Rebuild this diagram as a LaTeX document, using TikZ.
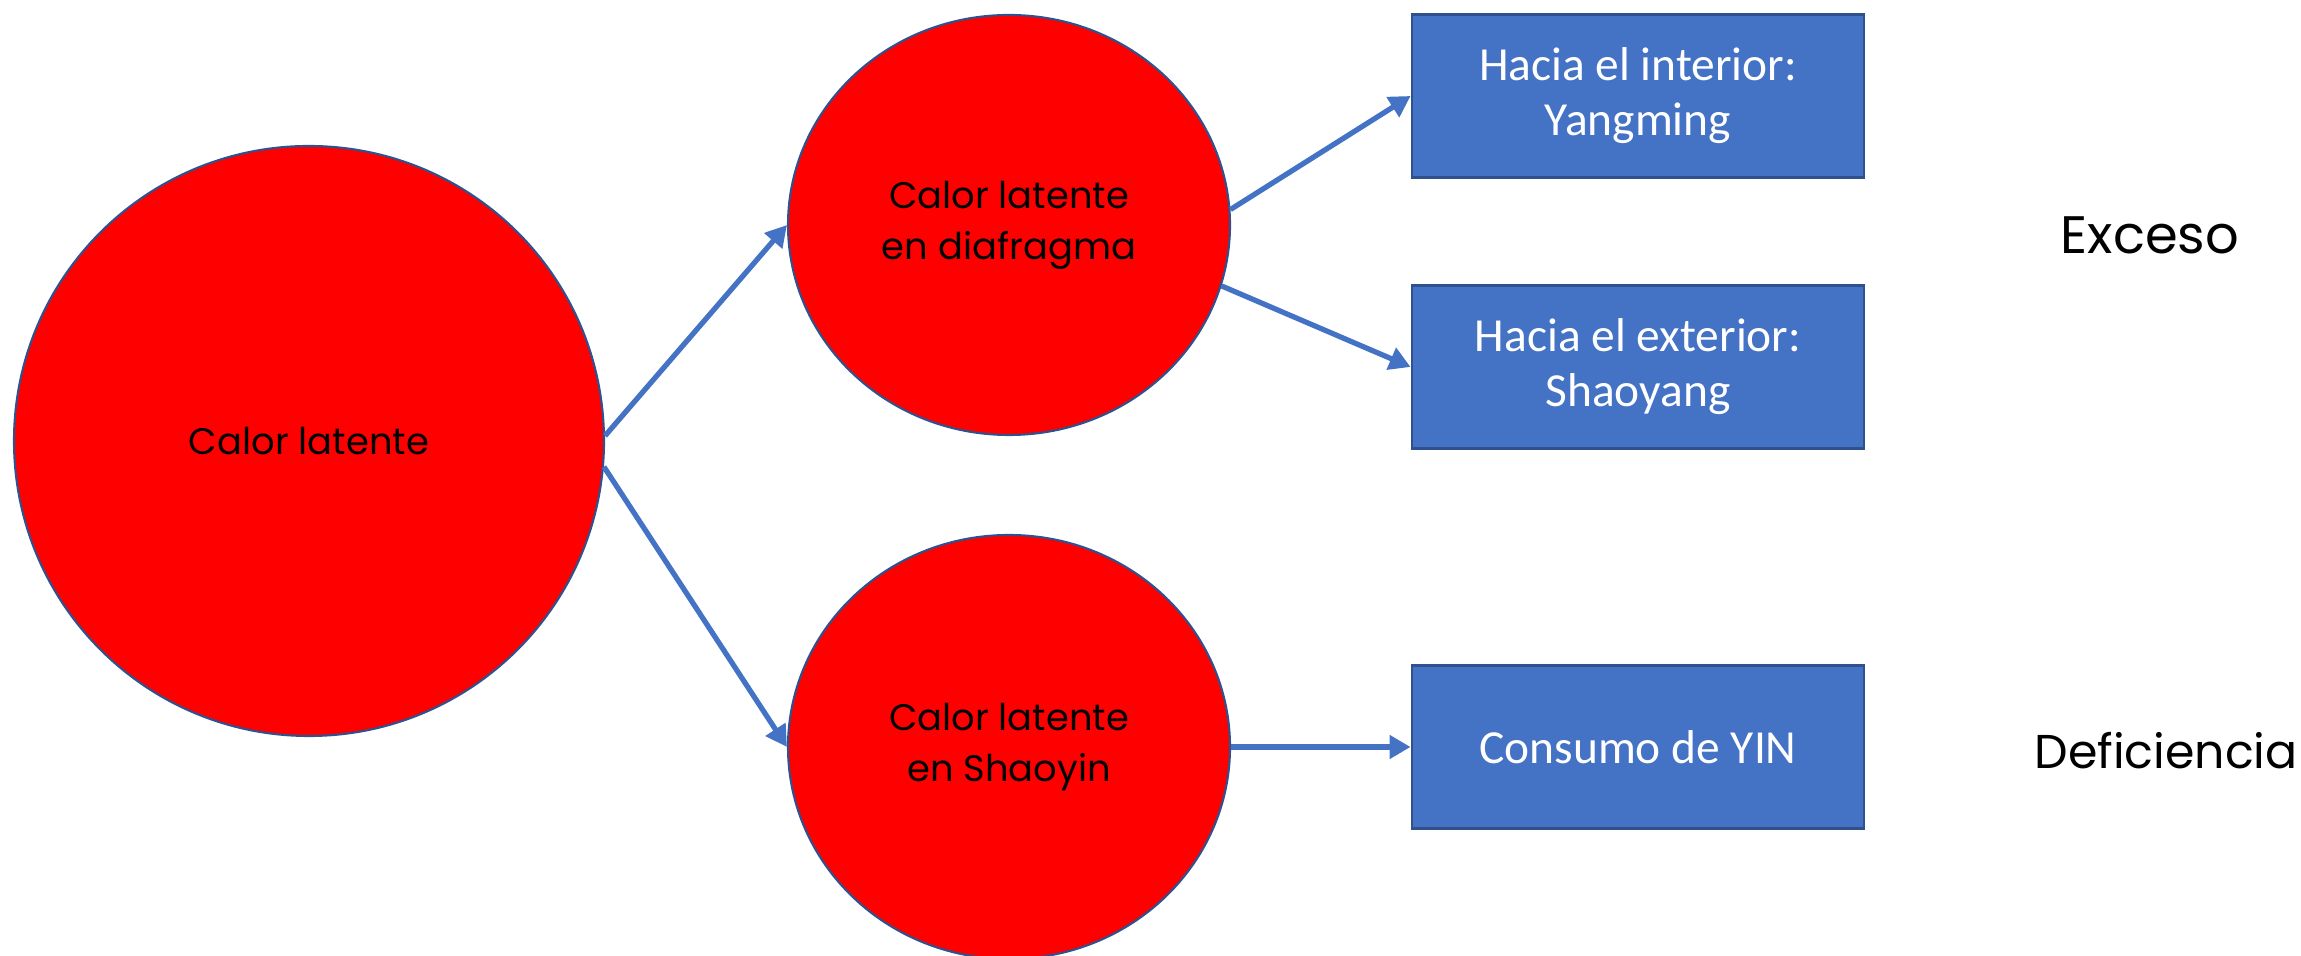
\documentclass[tikz,border=0pt]{standalone}
\usepackage{fontspec}
\setmainfont{Poppins}
\newfontfamily\boxfont{Carlito}
\usetikzlibrary{arrows.meta,shapes.geometric}
\definecolor{azul}{HTML}{4472C4}
\definecolor{azulosc}{HTML}{2F528F}
\definecolor{rojo}{HTML}{FF0000}

\begin{document}
\begin{tikzpicture}[
    bola/.style={ellipse, fill=rojo, draw=azulosc, line width=0.6pt, inner sep=0pt, align=center, font=\fontsize{10.5}{14.5}\selectfont},
    caja/.style={rectangle, fill=azul, draw=azulosc, line width=0.8pt, minimum width=4.52cm, minimum height=1.63cm, align=center, text=white, font=\boxfont\fontsize{13.5}{15.6}\selectfont},
    flecha/.style={draw=azul, line width=1.5pt, -{Triangle[length=6pt,width=6.5pt]}},
  ]
\useasboundingbox (0,0) rectangle (23.01,9.56);

\node[bola, minimum width=5.9cm, minimum height=5.9cm] (calor) at (3.09,5.15) {Calor latente};
\node[bola, minimum width=4.42cm, minimum height=4.20cm] (diaf) at (10.09,7.31) {Calor latente\\en diafragma};
\node[bola, minimum width=4.42cm, minimum height=4.24cm] (shaoyin) at (10.09,2.09) {Calor latente\\en Shaoyin};

\node[caja] (yangming) at (16.38,8.60) {Hacia el interior:\\Yangming};
\node[caja] (shaoyang) at (16.38,5.89) {Hacia el exterior:\\Shaoyang};
\node[caja] (yin) at (16.38,2.09) {Consumo de YIN};

\node[font=\fontsize{15}{18}\selectfont] (exceso) at (21.50,7.21) {Exceso};
\node[font=\fontsize{13.5}{16}\selectfont] (deficiencia) at (21.66,2.05) {Deficiencia};

\draw[flecha] (calor.1) -- (diaf.west);
\draw[flecha] (calor.-5) -- (shaoyin.west);
\draw[flecha] (diaf.4) -- (yangming.west);
\draw[flecha] (diaf.-16) -- (shaoyang.west);
\draw[flecha] (shaoyin.east) -- (yin.west);

\end{tikzpicture}
\end{document}
